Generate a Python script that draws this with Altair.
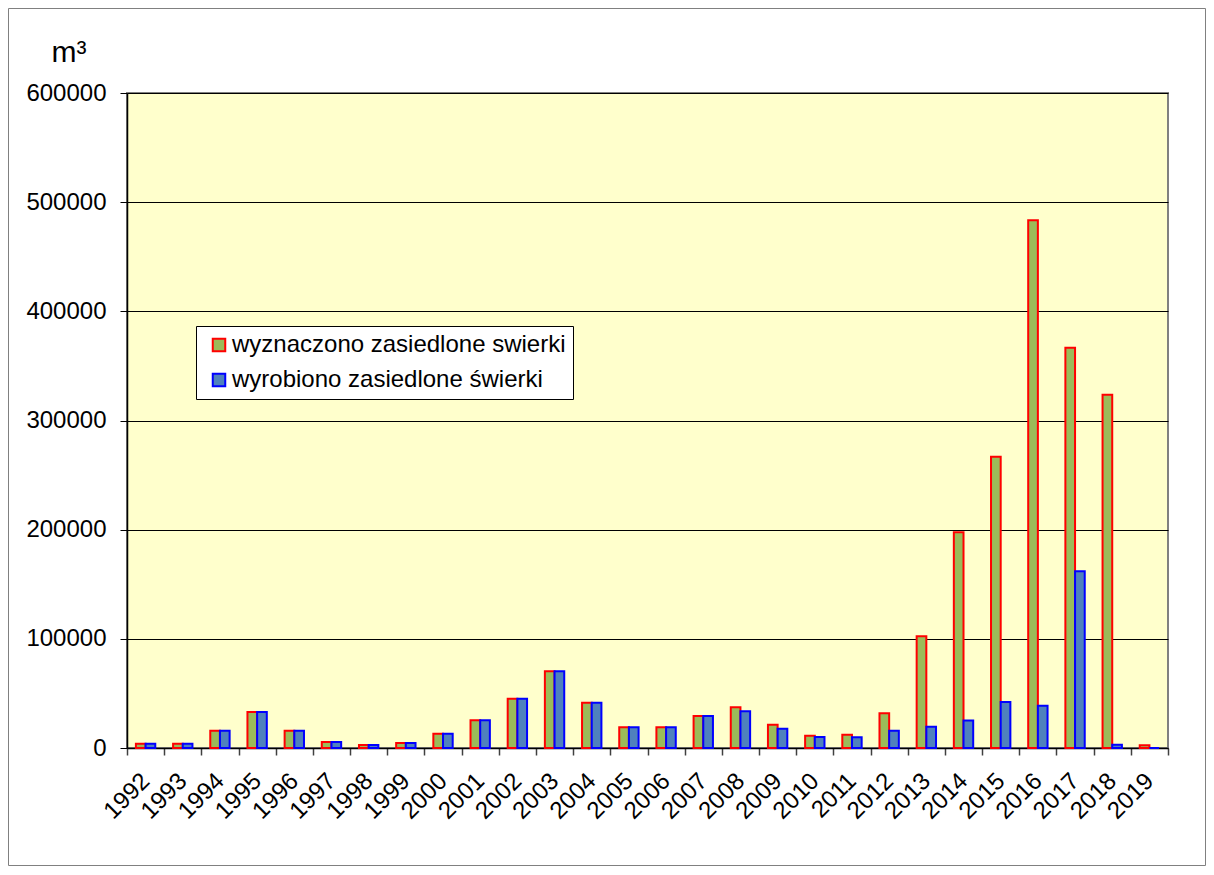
import altair as alt
import pandas as pd

years = ["1992", "1993", "1994", "1995", "1996", "1997", "1998", "1999", "2000",
         "2001", "2002", "2003", "2004", "2005", "2006", "2007", "2008", "2009",
         "2010", "2011", "2012", "2013", "2014", "2015", "2016", "2017", "2018", "2019"]

wyznaczono = [4000, 4000, 15800, 33000, 15800, 5500, 2700, 4600, 13100,
              25400, 45200, 70200, 41500, 19000, 19000, 29300, 37300, 21400,
              11300, 12200, 31800, 102300, 197600, 266900, 483400, 366700, 323700, 2500]

wyrobiono = [4000, 4000, 15800, 33000, 15800, 5500, 2700, 4600, 13100,
             25400, 45200, 70200, 41500, 19000, 19000, 29300, 33600, 17700,
             10000, 9800, 15900, 19500, 25300, 42100, 38800, 162000, 3000, 0]

series_names = ["wyznaczono zasiedlone swierki", "wyrobiono zasiedlone świerki"]
fill_colors = ["#9BBB59", "#4F81BD"]
stroke_colors = ["#FF0000", "#0000FF"]
y_ticks = [0, 100000, 200000, 300000, 400000, 500000, 600000]

df = pd.DataFrame({
    "year": years + years,
    "series": [series_names[0]] * len(years) + [series_names[1]] * len(years),
    "value": wyznaczono + wyrobiono,
})

W, H = 1041, 655
PAD = {"left": 119, "top": 85, "right": 38, "bottom": 118}

legend_kw = dict(
    orient="none", legendX=69, legendY=233, title=None,
    fillColor="white", strokeColor="black", padding=7,
    symbolOffset=4, symbolType="square", symbolSize=156, symbolStrokeWidth=2,
    labelFontSize=24, labelOffset=1, rowPadding=11, labelLimit=600,
    labelColor="black",
)

bars = alt.Chart(df).mark_bar(strokeWidth=2).encode(
    x=alt.X("year:N", sort=None,
            scale=alt.Scale(paddingInner=0, paddingOuter=0),
            axis=alt.Axis(title=None, labelAngle=-45, labelAlign="right",
                          labelBaseline="middle", labelFontSize=24, labelPadding=22,
                          tickBand="extent", tickSize=7, tickColor="#404040",
                          tickWidth=1.5, domainColor="black", domainWidth=1.5,
                          labelColor="black", grid=False)),
    xOffset=alt.XOffset("series:N", sort=series_names,
                        scale=alt.Scale(domain=series_names, paddingOuter=0.92, paddingInner=0)),
    y=alt.Y("value:Q",
            scale=alt.Scale(domain=[0, 600000], nice=False),
            axis=alt.Axis(values=y_ticks, format="d", title="m³", titleAngle=0,
                          titleX=-76, titleY=-32, titleAlign="left",
                          titleBaseline="alphabetic", titleFontSize=30,
                          titleFontWeight="normal", titleColor="black",
                          grid=True, gridColor="black", gridWidth=1,
                          tickSize=7, tickColor="black", labelPadding=14,
                          labelFontSize=24, labelColor="black",
                          domainColor="black", domainWidth=1.5)),
    fill=alt.Fill("series:N",
                  scale=alt.Scale(domain=series_names, range=fill_colors),
                  legend=alt.Legend(**legend_kw)),
    stroke=alt.Stroke("series:N",
                      scale=alt.Scale(domain=series_names, range=stroke_colors),
                      legend=alt.Legend(**legend_kw)),
)

border = alt.Chart(pd.DataFrame({"a": [0]})).mark_rect(
    fill=None, stroke="#808080", strokeWidth=1
).encode(
    x=alt.value(-PAD["left"] + 0.5),
    x2=alt.value(W + PAD["right"] - 0.5),
    y=alt.value(-PAD["top"] + 0.5),
    y2=alt.value(H + PAD["bottom"] - 0.5),
)

chart = alt.layer(border, bars).properties(
    width=W, height=H,
    autosize=alt.AutoSizeParams(type="none"),
    padding=PAD,
    background="white",
).configure(font="Liberation Sans").configure_view(
    fill="#FFFFCC", stroke="#808080", strokeWidth=2
)

chart.save("out.html", embed_options={"renderer": "svg", "actions": False})
